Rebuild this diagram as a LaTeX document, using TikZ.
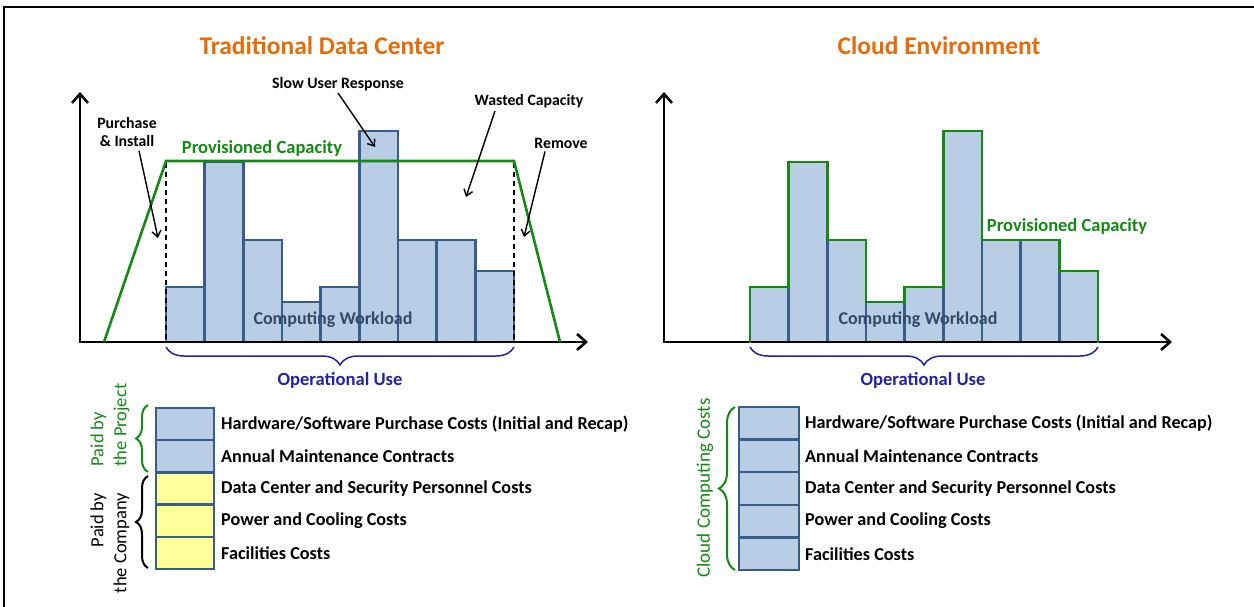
\documentclass[tikz,border=0pt]{standalone}
\usepackage{fontspec}
\setmainfont{Carlito}
\usetikzlibrary{arrows.meta,decorations.pathreplacing,calc}

\definecolor{barfill}{HTML}{B9CDE5}
\definecolor{barline}{HTML}{385D8A}
\definecolor{capgreen}{HTML}{138A13}
\definecolor{titleorange}{HTML}{E46C0A}
\definecolor{usebl}{HTML}{2222A6}
\definecolor{workload}{HTML}{34496A}
\definecolor{paleyellow}{HTML}{FFFF99}

\tikzset{
  title/.style={text=titleorange,font=\fontsize{25.5}{30}\selectfont\bfseries},
  axis/.style={line width=2.6pt,{Straight Barb[length=9pt,width=16pt,line width=2.6pt]}-{Straight Barb[length=9pt,width=16pt,line width=2.6pt]}},
  bar/.style={fill=barfill,draw=barline,line width=2.4pt},
  capline/.style={draw=capgreen,line width=2.6pt,line join=miter},
  caplabel/.style={text=capgreen,font=\fontsize{18.5}{22}\selectfont\bfseries},
  wl/.style={text=workload,font=\fontsize{18}{22}\selectfont\bfseries},
  note/.style={font=\fontsize{15.8}{18}\selectfont\bfseries,align=center,inner sep=1pt},
  notearrow/.style={line width=1.4pt,-{Straight Barb[length=6pt,width=9pt,line width=1.4pt]}},
  guide/.style={dashed,dash pattern=on 5pt off 4pt,line width=1.6pt},
  usebrace/.style={draw=usebl,line width=1.5pt,decorate,decoration={brace,mirror,amplitude=18pt}},
  uselabel/.style={text=usebl,font=\fontsize{18.6}{22}\selectfont\bfseries},
  costbox/.style={draw=barline,line width=2.4pt},
  costtext/.style={anchor=west,font=\fontsize{18.2}{22}\selectfont\bfseries,inner sep=0pt},
  sidebrace/.style={line width=2pt,decorate,decoration={brace,amplitude=#1}},
  sidelabel/.style={rotate=90,font=\fontsize{18.5}{23}\selectfont,inner sep=0pt}
}

\begin{document}
\begin{tikzpicture}[x=1pt,y=-1pt]
\useasboundingbox (0,0) rectangle (1254,607);
% outer frame (top and left edges)
\draw[line width=2pt] (4,607) -- (4,7) -- (1254,7);

% titles
\node[title] (t1) at (322,46) {Traditional Data Center};
\node[title] (t2) at (939,46) {Cloud Environment};

% ---------- traditional data center chart ----------
\foreach \h [count=\i from 0] in {287,162,240,302,287,131,240,240,271}
  \draw[bar] ({166+38.667*\i},342) rectangle ({166+38.667*(\i+1)},\h);
\coordinate (ay1) at (80,92);
\coordinate (ax1) at (588,342);
\draw[axis] (ay1) |- (ax1);
\draw[guide] (166,163) -- (166,342);
\draw[guide] (514,163) -- (514,342);
\draw[capline] (104,342) -- (166,161) -- (514,161) -- (560,342);
\node[caplabel] (pc1) at (262,148) {Provisioned Capacity};
\node[wl] (cw1) at (333,320) {Computing Workload};

\node[note] (pi) at (127,132) {Purchase\\\& Install};
\node[note] (sur) at (338,84) {Slow User Response};
\node[note] (wc) at (529,101) {Wasted Capacity};
\node[note] (rm) at (561,143) {Remove};
\coordinate (piTip) at (158,238);
\coordinate (surTip) at (375,147);
\coordinate (wcTip) at (466,197);
\coordinate (rmTip) at (524,237);
\draw[notearrow] ([xshift=12pt,yshift=-3pt]pi.south) -- (piTip);
\draw[notearrow] ([yshift=-1pt]sur.south) -- (surTip);
\draw[notearrow] ([xshift=-34pt,yshift=-2pt]wc.south) -- (wcTip);
\draw[notearrow] ([xshift=-16pt,yshift=-2pt]rm.south) -- (rmTip);

\draw[usebrace] (166,347) -- (514,347);
\node[uselabel] (ou1) at (340,380) {Operational Use};

% ---------- cloud environment chart ----------
\foreach \h [count=\i from 0] in {287,162,240,302,287,131,240,240,271}
  \draw[bar] ({750+38.667*\i},342) rectangle ({750+38.667*(\i+1)},\h);
\coordinate (ay2) at (664,92);
\coordinate (ax2) at (1172,342);
\draw[axis] (ay2) |- (ax2);
\draw[capline] (750,343) -- (750,287) -- (788.7,287) -- (788.7,162) -- (827.3,162)
  -- (827.3,240) -- (866,240) -- (866,302) -- (904.7,302) -- (904.7,287)
  -- (943.3,287) -- (943.3,131) -- (982,131) -- (982,240) -- (1059.3,240)
  -- (1059.3,271) -- (1098,271) -- (1098,343);
\node[caplabel] (pc2) at (1067,226) {Provisioned Capacity};
\node[wl] (cw2) at (918,320) {Computing Workload};

\draw[usebrace] (750,347) -- (1098,347);
\node[uselabel] (ou2) at (923,380) {Operational Use};

% ---------- cost tables ----------
\foreach \lbl [count=\i from 0] in {Hardware/Software Purchase Costs (Initial and Recap),
    Annual Maintenance Contracts, Data Center and Security Personnel Costs,
    Power and Cooling Costs, Facilities Costs}{
  \pgfmathsetmacro{\ta}{408+32.2*\i}
  \pgfmathsetmacro{\tb}{408+32.2*(\i+1)}
  \ifnum\i<2
    \draw[costbox,fill=barfill] (156,\ta) rectangle (214,\tb);
  \else
    \draw[costbox,fill=paleyellow] (156,\ta) rectangle (214,\tb);
  \fi
  \node[costtext] (l\i) at (221,{(\ta+\tb)/2}) {\lbl};
  \pgfmathsetmacro{\ra}{407+32.6*\i}
  \pgfmathsetmacro{\rb}{407+32.6*(\i+1)}
  \draw[costbox,fill=barfill] (739,\ra) rectangle (799,\rb);
  \node[costtext] (r\i) at (805,{(\ra+\rb)/2}) {\lbl};
}

\draw[sidebrace=12pt,draw=capgreen] (148,472) -- (148,405);
\draw[sidebrace=12pt,draw=black] (148,568) -- (148,476);
\node[sidelabel,text=capgreen,align=left] (pp) at (110,425) {Paid by\\the Project};
\node[sidelabel,align=right] (pcmp) at (110,543) {Paid by\\the Company};

\draw[sidebrace=16pt,draw=capgreen] (735,570) -- (735,407);
\node[sidelabel,text=capgreen,font=\fontsize{19}{23}\selectfont] (ccc) at (705,488) {Cloud Computing Costs};
\end{tikzpicture}
\end{document}
